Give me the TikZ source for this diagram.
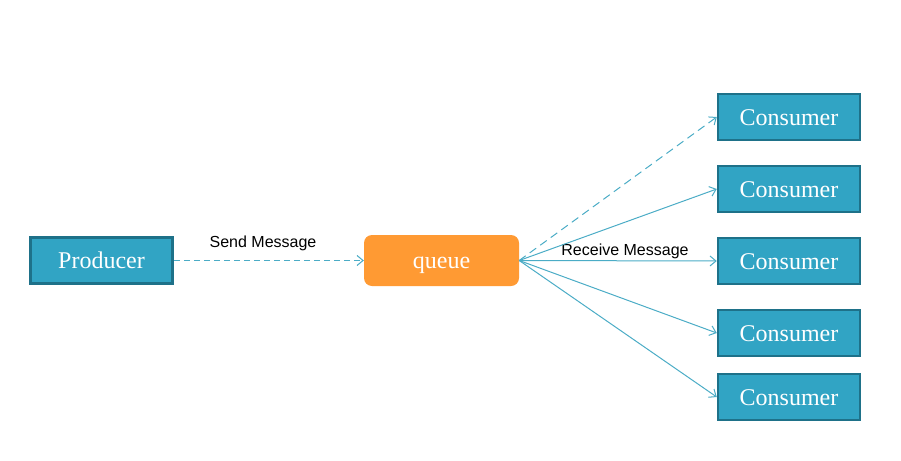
\documentclass[tikz,border=0pt]{standalone}
\usepackage{fontspec}
\setmainfont{Liberation Serif}
\newfontfamily\labelfont{Liberation Sans}
\usetikzlibrary{arrows.meta}
\definecolor{boxfill}{HTML}{31A4C4}
\definecolor{boxline}{HTML}{1E7189}
\definecolor{queuefill}{HTML}{FF9A33}
\definecolor{arrowline}{HTML}{4BACC6}
\tikzset{
  rolebox/.style={draw=boxline, line width=2.5pt, fill=boxfill, text=white,
    minimum width=142pt, minimum height=46pt, inner sep=0pt,
    text height=16pt, text depth=0pt,
    font=\fontsize{24}{24}\selectfont},
  queuebox/.style={fill=queuefill, rounded corners=8pt, text=white,
    minimum width=155pt, minimum height=51pt, inner sep=0pt,
    text height=16pt, text depth=0pt,
    font=\fontsize{24}{24}\selectfont},
  msg/.style={draw=arrowline, line width=1pt, -{Straight Barb[length=6pt,width=10pt]}},
  msglabel/.style={font=\labelfont\fontsize{16}{16}\selectfont, inner sep=0pt}
}
\begin{document}
\begin{tikzpicture}[x=1pt,y=-1pt]
            \useasboundingbox (0,0) rectangle (901,460);
            \node[rolebox] (prod) at (101.5,260.5) {Producer};
            \node[queuebox] (queue) at (441.5,260.5) {queue};
            \node[rolebox] (c1) at (789,117) {Consumer};
            \node[rolebox] (c2) at (789,189) {Consumer};
            \node[rolebox] (c3) at (789,261) {Consumer};
            \node[rolebox] (c4) at (789,333) {Consumer};
            \node[rolebox] (c5) at (789,397) {Consumer};
            \node[msglabel] (send) at (263,243) {Send Message};
            \node[msglabel] (recv) at (625,251) {Receive Message};
            \draw[msg, dash pattern=on 6pt off 4pt] (prod) -- (queue);
            \draw[msg, dash pattern=on 8pt off 5pt] (queue.east) -- (c1.west);
            \draw[msg] (queue.east) -- (c2.west);
            \draw[msg] (queue.east) -- (c3.west);
            \draw[msg] (queue.east) -- (c4.west);
            \draw[msg] (queue.east) -- (c5.west);
        \end{tikzpicture}
\end{document}
